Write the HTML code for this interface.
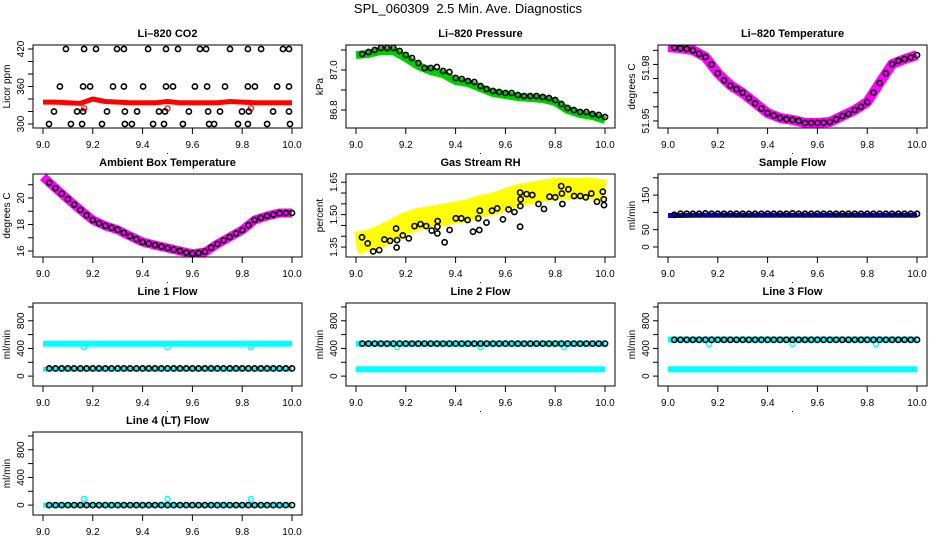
<!DOCTYPE html>
<html><head><meta charset="utf-8">
<style>
html,body{margin:0;padding:0;background:#fff;}
svg{display:block;font-family:"Liberation Sans",sans-serif;}
</style></head>
<body>
<svg id="fig" width="936" height="540" viewBox="0 0 936 540" xmlns="http://www.w3.org/2000/svg">
<rect width="936" height="540" fill="#fff"/>
<text x="468" y="13" text-anchor="middle" font-size="13">SPL_060309&#160; 2.5 Min. Ave. Diagnostics</text>
</svg>
<script>
// ---- shared time grids ----
const tBand = [9.0,9.05,9.1,9.15,9.2,9.25,9.3,9.35,9.4,9.45,9.5,9.55,9.6,9.65,9.7,9.75,9.8,9.85,9.9,9.95,10.0];
const tAvg = [9.025,9.05,9.075,9.1,9.125,9.15,9.175,9.2,9.225,9.25,9.275,9.3,9.325,9.35,9.375,9.4,9.425,9.45,9.475,9.5,9.525,9.55,9.575,9.6,9.625,9.65,9.675,9.7,9.725,9.75,9.775,9.8,9.825,9.85,9.875,9.9,9.925,9.95,9.975,10.0];
const xTicks = [9.0,9.2,9.4,9.6,9.8,10.0];
const xTickLabels = ["9.0","9.2","9.4","9.6","9.8","10.0"];
const tOut = [9.165,9.5,9.835];

// ---- Li-820 CO2 ----
const co2Raw = [335,335,334,333,340,336,335,334,334,334,336,334,334,334,334,336,335,334,334,334,334];
const co2OutVals = [325,325,325];
const co2AvgT = [9.092,9.165,9.213,9.297,9.325,9.422,9.494,9.542,9.63,9.655,9.751,9.823,9.876,9.964,9.988,
 9.068,9.161,9.189,9.281,9.325,9.402,9.494,9.522,9.61,9.659,9.731,9.823,9.851,9.94,9.988,
 9.044,9.137,9.161,9.257,9.329,9.378,9.466,9.49,9.586,9.663,9.711,9.799,9.827,9.924,9.988,
 9.024,9.112,9.157,9.237,9.329,9.357,9.442,9.486,9.562,9.667,9.687,9.783,9.823,9.9,9.992];
const co2AvgVals = [420,420,420,420,420,420,420,420,420,420,420,420,420,420,420,
 360,360,360,360,360,360,360,360,360,360,360,360,360,360,360,
 320,320,320,320,320,320,320,320,320,320,320,320,320,320,320,
 300,300,300,300,300,300,300,300,300,300,300,300,300,300,300];
// ---- Pressure ----
const presRaw = [87.075,87.08,87.095,87.095,87.06,87.02,86.995,86.98,86.945,86.935,86.91,86.885,86.875,86.865,86.86,86.855,86.84,86.8,86.78,86.77,86.75];
const presAvg = [87.08,87.09,87.10,87.11,87.11,87.11,87.095,87.075,87.06,87.035,87.01,87.01,87.015,86.995,86.99,86.96,86.955,86.945,86.94,86.92,86.905,86.895,86.89,86.885,86.885,86.875,86.87,86.87,86.87,86.865,86.86,86.85,86.83,86.81,86.8,86.79,86.79,86.78,86.775,86.765];
// ---- Li-820 Temperature ----
const tempRaw = [51.9918,51.9912,51.9901,51.9862,51.9771,51.9703,51.9658,51.9602,51.9545,51.9517,51.9506,51.9489,51.9489,51.9494,51.9528,51.9562,51.9607,51.9715,51.9822,51.985,51.9873];
const tempAvg = [51.9915,51.9912,51.9908,51.990,51.988,51.9862,51.982,51.977,51.973,51.970,51.968,51.966,51.963,51.960,51.957,51.9545,51.953,51.9517,51.951,51.9506,51.950,51.9489,51.9489,51.9489,51.949,51.9494,51.951,51.9528,51.954,51.9562,51.958,51.9607,51.966,51.9715,51.977,51.9822,51.984,51.985,51.986,51.9873];
// ---- Ambient Box Temperature ----
const ambRaw = [21.6,20.75,19.92,19.1,18.34,17.9,17.6,17.13,16.68,16.45,16.23,16.0,15.8,15.92,16.53,17.06,17.58,18.34,18.64,18.87,18.87];
const ambAvg = [21.15,20.75,20.33,19.92,19.5,19.1,18.7,18.34,18.1,17.9,17.75,17.6,17.37,17.13,16.9,16.68,16.56,16.45,16.34,16.23,16.1,16.0,15.88,15.8,15.85,15.95,16.25,16.53,16.8,17.06,17.32,17.58,17.95,18.34,18.5,18.64,18.75,18.85,18.87,18.87];
// ---- Gas Stream RH ----
const rhRaw = [1.37,1.38,1.40,1.43,1.46,1.48,1.49,1.50,1.51,1.52,1.54,1.55,1.57,1.59,1.60,1.61,1.62,1.62,1.62,1.62,1.61];
const rhAvgT = [9.024,9.047,9.069,9.093,9.114,9.137,9.161,9.165,9.163,9.188,9.212,9.235,9.259,9.282,9.304,9.327,9.328,9.327,9.356,9.376,9.401,9.423,9.448,9.470,9.491,9.495,9.497,9.524,9.546,9.567,9.590,9.613,9.636,9.659,9.661,9.660,9.659,9.685,9.708,9.733,9.755,9.777,9.800,9.824,9.827,9.829,9.853,9.876,9.901,9.923,9.945,9.968,9.991,9.995,9.996];
const rhAvgVals = [1.395,1.367,1.330,1.336,1.385,1.379,1.436,1.382,1.348,1.404,1.390,1.447,1.456,1.447,1.426,1.444,1.470,1.413,1.372,1.429,1.483,1.483,1.475,1.421,1.483,1.429,1.518,1.463,1.518,1.529,1.478,1.524,1.512,1.602,1.571,1.540,1.444,1.595,1.591,1.549,1.526,1.583,1.580,1.632,1.598,1.549,1.617,1.586,1.586,1.580,1.598,1.560,1.606,1.571,1.544];
// ---- Sample Flow ----
const sampleRaw = [91,91,92,92,92,92,92,92,92,92,92,92,92,92,92,92,92,92,92,92,92];
const sampleAvg = [93,96,96,96,96,97,96,96,96,96,96,96,96,96,96,96,96,96,96,97,96,96,96,96,96,96,96,96,96,96,96,96,96,96,96,96,96,96,96,96];
// ---- Line 1..4 Flows ----
const line1High = [470,470,470,470,470,470,470,470,470,470,470,470,470,470,470,470,470,470,470,470,470];
const line1Low = [100,100,100,100,100,100,100,100,100,100,100,100,100,100,100,100,100,100,100,100,100];
const line1Avg = [112,112,112,112,112,112,112,112,112,112,112,112,112,112,112,112,112,112,112,112,112,112,112,112,112,112,112,112,112,112,112,112,112,112,112,112,112,112,112,112];
const line1Out = [420,420,420];
const line2High = [470,470,470,470,470,470,470,470,470,470,470,470,470,470,470,470,470,470,470,470,470];
const line2Low = [100,100,100,100,100,100,100,100,100,100,100,100,100,100,100,100,100,100,100,100,100];
const line2Avg = [470,470,470,470,470,470,470,470,470,470,470,470,470,470,470,470,470,470,470,470,470,470,470,470,470,470,470,470,470,470,470,470,470,470,470,470,470,470,470,470];
const line2Out = [420,420,420];
const line3High = [530,530,530,530,530,530,530,530,530,530,530,530,530,530,530,530,530,530,530,530,530];
const line3Low = [100,100,100,100,100,100,100,100,100,100,100,100,100,100,100,100,100,100,100,100,100];
const line3Avg = [525,525,525,525,525,525,525,525,525,525,525,525,525,525,525,525,525,525,525,525,525,525,525,525,525,525,525,525,525,525,525,525,525,525,525,525,525,525,525,525];
const line3Out = [465,465,465];
const line4Raw = [0,0,0,0,0,0,0,0,0,0,0,0,0,0,0,0,0,0,0,0,0];
const line4Avg = [0,0,0,0,0,0,0,0,0,0,0,0,0,0,0,0,0,0,0,0,0,0,0,0,0,0,0,0,0,0,0,0,0,0,0,0,0,0,0,0];
const line4Out = [90,90,90];

const NS = "http://www.w3.org/2000/svg";
const svg = document.getElementById('fig');
function mk(tag, attrs, parent){ const e=document.createElementNS(NS,tag); for(const k in attrs) e.setAttribute(k,attrs[k]); (parent||svg).appendChild(e); return e; }

const colLeft=[33,346,658], rowTop=[45,174,303,432], W=269, H=83;
const lineTicks=[0,200,400,600,800,1000], lineLabels=[[0,"0"],[400,"400"],[800,"800"]];
const flowDom=[-143,1057];

const panels = [
 {name:"li820-co2",title:"Li\u2013820 CO2",ylab:"Licor ppm",c:0,r:0,dom:[293.6,426.4],ticks:[300,320,340,360,380,400,420],labels:[[300,"300"],[360,"360"],[420,"420"]],
  bands:[{t:tBand,v:co2Raw,col:"#ff0000",w:5}],pts:[{t:tOut,v:co2OutVals,col:"#ff0000",w:1.2},{t:co2AvgT,v:co2AvgVals,col:"#000",w:1.6}]},
 {name:"li820-pressure",title:"Li\u2013820 Pressure",ylab:"kPa",c:1,r:0,dom:[86.71,87.125],ticks:[86.8,86.9,87.0,87.1],labels:[[86.8,"86.8"],[87.0,"87.0"]],
  bands:[{t:tBand,v:presRaw,col:"#00cc00",w:8}],pts:[{t:tAvg,v:presAvg,col:"#000",w:1.6}]},
 {name:"li820-temperature",title:"Li\u2013820 Temperature",ylab:"degrees C",c:2,r:0,dom:[51.946,51.993],ticks:[51.95,51.958,51.966,51.974,51.982,51.99],labels:[[51.95,"51.95"],[51.98,"51.98"]],
  bands:[{t:tBand,v:tempRaw,col:"#ff00ff",w:10}],pts:[{t:tAvg,v:tempAvg,col:"#000",w:1.6}]},
 {name:"ambient-box-temperature",title:"Ambient Box Temperature",ylab:"degrees C",c:0,r:1,dom:[15.55,21.81],ticks:[16,17,18,19,20,21],labels:[[16,"16"],[18,"18"],[20,"20"]],
  bands:[{t:tBand,v:ambRaw,col:"#ff00ff",w:9}],pts:[{t:tAvg,v:ambAvg,col:"#000",w:1.6}]},
 {name:"gas-stream-rh",title:"Gas Stream RH",ylab:"percent",c:1,r:1,dom:[1.304,1.688],ticks:[1.35,1.4,1.45,1.5,1.55,1.6,1.65],labels:[[1.35,"1.35"],[1.5,"1.50"],[1.65,"1.65"]],
  bands:[{t:tBand,v:rhRaw,col:"#ffff00",w:22}],pts:[{t:rhAvgT,v:rhAvgVals,col:"#000",w:1.6}]},
 {name:"sample-flow",title:"Sample Flow",ylab:"ml/min",c:2,r:1,dom:[-29,211],ticks:[0,50,100,150,200],labels:[[0,"0"],[50,"50"],[150,"150"]],
  bands:[{t:tBand,v:sampleRaw,col:"#0000ff",w:5}],pts:[{t:tAvg,v:sampleAvg,col:"#000",w:1.6}]},
 {name:"line1-flow",title:"Line 1 Flow",ylab:"ml/min",c:0,r:2,dom:flowDom,ticks:lineTicks,labels:lineLabels,
  bands:[{t:tBand,v:line1High,col:"#00ffff",w:6},{t:tBand,v:line1Low,col:"#00ffff",w:5}],pts:[{t:tOut,v:line1Out,col:"#00ffff",w:1.4},{t:tAvg,v:line1Avg,col:"#000",w:1.6}]},
 {name:"line2-flow",title:"Line 2 Flow",ylab:"ml/min",c:1,r:2,dom:flowDom,ticks:lineTicks,labels:lineLabels,
  bands:[{t:tBand,v:line2High,col:"#00ffff",w:6},{t:tBand,v:line2Low,col:"#00ffff",w:6}],pts:[{t:tOut,v:line2Out,col:"#00ffff",w:1.4},{t:tAvg,v:line2Avg,col:"#000",w:1.6}]},
 {name:"line3-flow",title:"Line 3 Flow",ylab:"ml/min",c:2,r:2,dom:flowDom,ticks:lineTicks,labels:lineLabels,
  bands:[{t:tBand,v:line3High,col:"#00ffff",w:6},{t:tBand,v:line3Low,col:"#00ffff",w:6}],pts:[{t:tOut,v:line3Out,col:"#00ffff",w:1.4},{t:tAvg,v:line3Avg,col:"#000",w:1.6}]},
 {name:"line4-flow",title:"Line 4 (LT) Flow",ylab:"ml/min",c:0,r:3,dom:flowDom,ticks:lineTicks,labels:lineLabels,
  bands:[{t:tBand,v:line4Raw,col:"#00ffff",w:5}],pts:[{t:tOut,v:line4Out,col:"#00ffff",w:1.4},{t:tAvg,v:line4Avg,col:"#000",w:1.6}]}
];

panels.forEach(p=>{
  const L=colLeft[p.c], T=rowTop[p.r], B=T+H, R=L+W;
  const xs=t=>L+10+(t-9.0)*249;
  const ys=v=>B-(v-p.dom[0])/(p.dom[1]-p.dom[0])*H;
  const g=mk('g',{});
  
  
  const clipId='clip-'+p.name;
  const cp=mk('clipPath',{id:clipId},g); mk('rect',{x:L,y:T,width:W,height:H},cp);
  const plot=mk('g',{'clip-path':'url(#'+clipId+')'},g);
  p.bands.forEach((b,i)=>{
    const pts=b.t.map((t,j)=>xs(t).toFixed(1)+','+ys(b.v[j]).toFixed(1)).join(' ');
    const pl=mk('polyline',{points:pts,fill:'none',stroke:b.col,'stroke-width':b.w,'stroke-linejoin':'round','stroke-linecap':'butt'},plot);
    
    
  });
  p.pts.forEach(s=>{
    s.t.forEach((t,j)=>{
      const c=mk('circle',{cx:xs(t).toFixed(1),cy:ys(s.v[j]).toFixed(1),r:2.6,fill:'none',stroke:s.col,'stroke-width':s.w},plot);
      
      
    });
  });
  const box=mk('rect',{x:L,y:T,width:W,height:H,fill:'none',stroke:'#000','stroke-width':1},g);
  
  
  const tt=mk('text',{x:L+W/2,y:T-8,'text-anchor':'middle','font-size':11,'font-weight':'bold'},g);
  tt.textContent=p.title;
  
  
  xTicks.forEach((t,i)=>{
    mk('line',{x1:xs(t),x2:xs(t),y1:B,y2:B+6,stroke:'#000'},g);
    const lb=mk('text',{x:xs(t),y:B+20,'text-anchor':'middle','font-size':10},g);
    lb.textContent=xTickLabels[i];
    
    
  });
  mk('rect',{x:L+W/2-0.5,y:B+25,width:1,height:1,fill:'#000'},g);
  p.ticks.forEach(v=>{ mk('line',{x1:L-5,x2:L,y1:ys(v),y2:ys(v),stroke:'#000'},g); });
  p.labels.forEach(([v,s])=>{
    const y=ys(v);
    const lb=mk('text',{x:L-9,y:y,'text-anchor':'middle','font-size':10,transform:'rotate(-90 '+(L-9)+' '+y+')'},g);
    lb.textContent=s;
    
    
  });
  const yl=mk('text',{x:L-23,y:T+H/2,'text-anchor':'middle','font-size':10,transform:'rotate(-90 '+(L-23)+' '+(T+H/2)+')'},g);
  yl.textContent=p.ylab;
  
  
});
</script>
</body></html>
